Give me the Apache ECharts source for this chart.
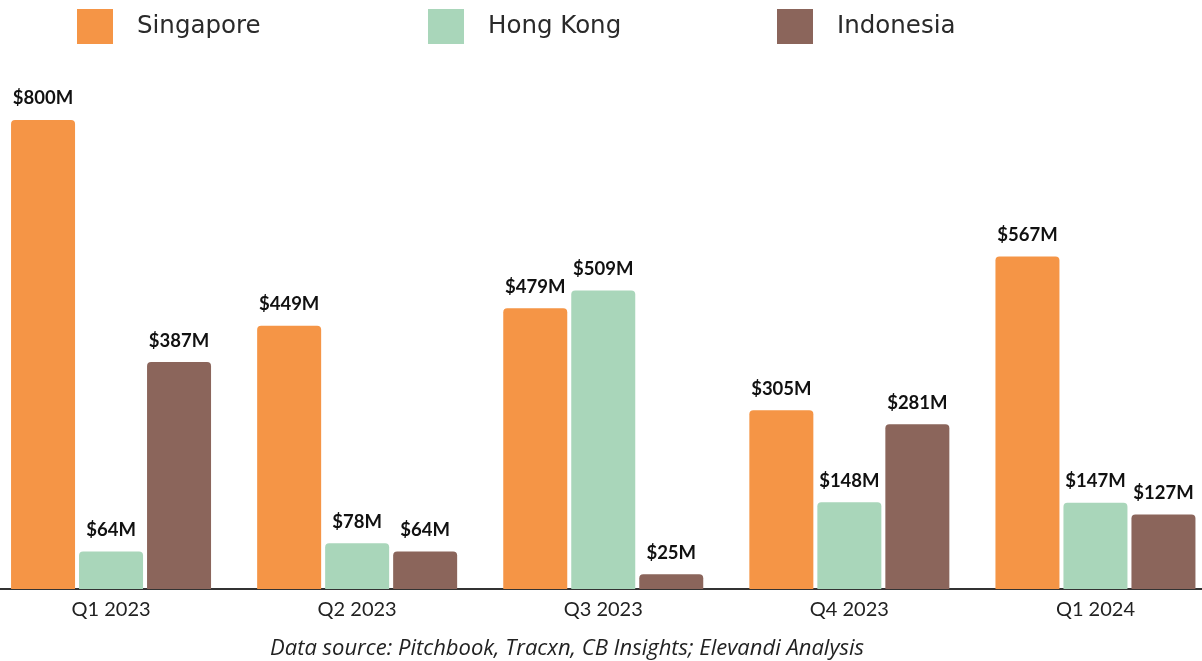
<!DOCTYPE html>
<html>
<head>
<meta charset="utf-8">
<script src="https://cdn.jsdelivr.net/npm/echarts@6/dist/echarts.min.js"></script>
<style>html,body{margin:0;padding:0;background:#fff}#c{width:1202px;height:661px}</style>
</head>
<body>
<div id="c"></div>
<script>
const categories = ['Q1 2023', 'Q2 2023', 'Q3 2023', 'Q4 2023', 'Q1 2024'];
const singapore = [800, 449, 479, 305, 567];
const hongKong = [64, 78, 509, 148, 147];
const indonesia = [387, 64, 25, 281, 127];
const seriesNames = ['Singapore', 'Hong Kong', 'Indonesia'];
const colors = ['#F59546', '#A9D6BA', '#8B655B'];
const footer = 'Data source: Pitchbook, Tracxn, CB Insights; Elevandi Analysis';

const chart = echarts.init(document.getElementById('c'), null, {renderer: 'canvas'});
const labelStyle = {
  show: true, position: 'top', distance: 12,
  fontFamily: 'Lato', fontWeight: 'bold', fontSize: 18.5, color: '#111',
  formatter: p => '$' + p.value + 'M'
};
const mk = (name, data, color) => ({
  name, type: 'bar', data, barWidth: 64, barGap: '6.25%',
  itemStyle: {color, borderRadius: [4, 4, 0, 0]},
  label: labelStyle
});
const legendPos = [77, 428, 777];
chart.setOption({
  animation: false,
  color: colors,
  legend: seriesNames.map((n, i) => ({
    data: [n], left: legendPos[i], top: 9, padding: 0,
    itemWidth: 36, itemHeight: 35, itemGap: 0,
    icon: 'rect',
    textStyle: {fontFamily: 'DejaVu Sans', fontSize: 24.5, color: '#2a2a2a', padding: [5, 0, 0, 19]}
  })),
  title: {
    text: footer, left: 270, bottom: 1, padding: 0,
    textStyle: {fontFamily: 'Open Sans', fontStyle: 'italic', fontWeight: 'normal', fontSize: 22, color: '#222'}
  },
  grid: {left: -12, right: -16.5, top: 2.75, bottom: 72, containLabel: false, outerBoundsMode: 'none'},
  xAxis: {
    type: 'category', data: categories,
    axisLine: {lineStyle: {color: '#333', width: 2}},
    axisTick: {show: false},
    axisLabel: {fontFamily: 'Lato', fontSize: 20, color: '#222', margin: 11}
  },
  yAxis: {
    type: 'value', min: 0, max: 1000, show: false,
    splitLine: {show: false}
  },
  series: [
    mk(seriesNames[0], singapore, colors[0]),
    mk(seriesNames[1], hongKong, colors[1]),
    mk(seriesNames[2], indonesia, colors[2])
  ]
});
</script>
</body>
</html>
